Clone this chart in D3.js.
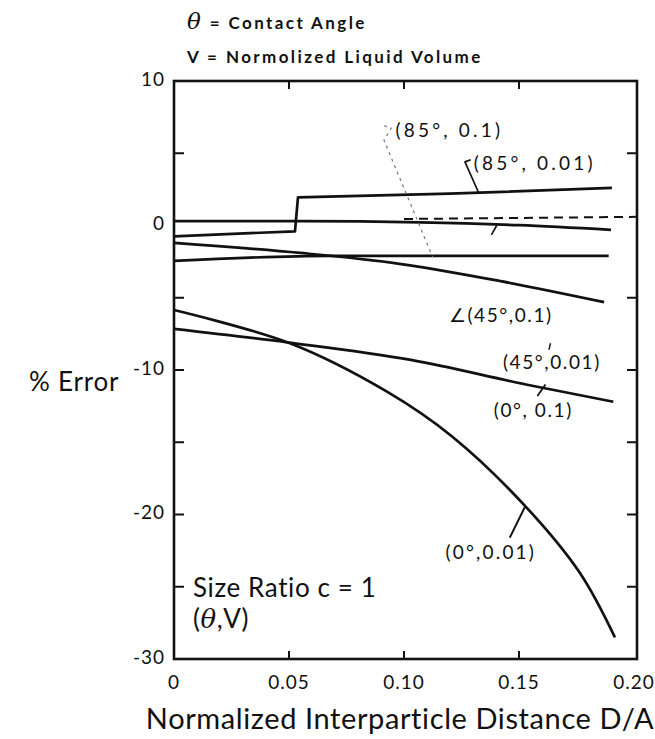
<!DOCTYPE html>
<html>
<head>
<meta charset="utf-8">
<script src="https://cdn.jsdelivr.net/npm/d3@7"></script>
<style>
  html, body { margin: 0; padding: 0; background: #fff; }
  svg { display: block; }
  text { font-family: Lato, "Open Sans", sans-serif; fill: #111; }
</style>
</head>
<body>
<svg id="chart" width="655" height="739"></svg>
<script>
// ---------- data ----------
const xTicks = [0, 0.05, 0.10, 0.15, 0.20];
const xTickLabels = ["0", "0.05", "0.10", "0.15", "0.20"];
const yTicks = [10, 0, -10, -20, -30];
const yInnerTicks = [5, -5, -10, -15, -20, -25];
const xInnerTicks = [0.05, 0.10, 0.15];

// (85°, 0.01) – with jump near D/A = 0.053
const s85_001_x = [0, 0.0526, 0.0539, 0.12, 0.1904];
const s85_001_y = [-0.75, -0.4, 1.95, 2.2, 2.6];

// (85°, 0.1) – solid, near zero
const s85_01_x = [0, 0.055, 0.107, 0.15, 0.19];
const s85_01_y = [0.3, 0.3, 0.22, 0.02, -0.3];

// dashed reference line
const sDash_x = [0.10, 0.2013];
const sDash_y = [0.45, 0.6];

// flat line near -2.2
const s45_001_x = [0, 0.068, 0.189];
const s45_001_y = [-2.45, -2.1, -2.1];

// (45°, 0.1)
const s45_01_x = [0, 0.055, 0.098, 0.142, 0.187];
const s45_01_y = [-1.2, -1.9, -2.65, -3.85, -5.3];

// (0°, 0.1)
const s0_01_x = [0, 0.05, 0.103, 0.153, 0.191];
const s0_01_y = [-7.15, -8.1, -9.3, -11.0, -12.2];

// (0°, 0.01)
const s0_001_x = [0, 0.0504, 0.0926, 0.1209, 0.1526, 0.1765, 0.1917];
const s0_001_y = [-5.85, -8.15, -11.5, -14.6, -19.4, -24.05, -28.5];

// leader lines as polylines in data units
const leader85_01 = [[0.0913, 6.9], [0.0945, 6.75], [0.0913, 5.9], [0.1125, -2.2]];
const leader85_001 = [[0.1290, 4.55], [0.1265, 4.4], [0.1325, 2.25]];
const leaderStub = [[0.1403, 0.0], [0.138, -0.65]];
const leader45_001 = [[0.1637, -8.15], [0.1630, -8.6]];
const leader0_01 = [[0.158, -11.8], [0.1615, -11.0]];
const leader0_001 = [[0.146, -21.6], [0.1525, -19.5]];

const labels = [
  {text: "(85°, 0.1)", x: 0.0963, y: 6.6},
  {text: "(85°, 0.01)", x: 0.1303, y: 4.3},
  {text: "∠(45°,0.1)", x: 0.1195, y: -6.2},
  {text: "(45°,0.01)", x: 0.1430, y: -9.45},
  {text: "(0°, 0.1)", x: 0.1390, y: -12.8},
  {text: "(0°,0.01)", x: 0.1180, y: -22.6}
];

// ---------- layout ----------
const svg = d3.select("#chart");
const x = d3.scaleLinear().domain([0, 0.2013]).range([174, 637]);
const y = d3.scaleLinear().domain([-30, 10]).range([659, 81]);

const line = d3.line().x(d => x(d[0])).y(d => y(d[1]));
const smooth = d3.line().x(d => x(d[0])).y(d => y(d[1])).curve(d3.curveMonotoneX);
const spline = d3.line().x(d => x(d[0])).y(d => y(d[1])).curve(d3.curveCatmullRom.alpha(0.5));
const zip = (a, b) => a.map((v, i) => [v, b[i]]);

// frame
svg.append("rect")
  .attr("x", x(0)).attr("y", y(10))
  .attr("width", x(0.2013) - x(0)).attr("height", y(-30) - y(10))
  .attr("fill", "none").attr("stroke", "#111").attr("stroke-width", 2.6);

// inner ticks
const tickLen = 10;
yInnerTicks.forEach(v => {
  svg.append("line").attr("x1", x(0)).attr("x2", x(0) + tickLen)
    .attr("y1", y(v)).attr("y2", y(v)).attr("stroke", "#111").attr("stroke-width", 2);
  svg.append("line").attr("x1", x(0.2013)).attr("x2", x(0.2013) - tickLen)
    .attr("y1", y(v)).attr("y2", y(v)).attr("stroke", "#111").attr("stroke-width", 2);
});
xInnerTicks.forEach(v => {
  svg.append("line").attr("x1", x(v)).attr("x2", x(v))
    .attr("y1", y(-30)).attr("y2", y(-30) - 8).attr("stroke", "#111").attr("stroke-width", 2);
  svg.append("line").attr("x1", x(v)).attr("x2", x(v))
    .attr("y1", y(10)).attr("y2", y(10) + 8).attr("stroke", "#111").attr("stroke-width", 2);
});

// tick labels
svg.append("g").selectAll("text").data(yTicks).join("text")
  .attr("x", 165).attr("y", d => y(d) - 2).attr("dy", "0.35em")
  .attr("text-anchor", "end").attr("font-size", 19).attr("letter-spacing", 1)
  .text(d => String(d));

svg.append("g").selectAll("text").data(xTicks).join("text")
  .attr("x", d => x(d)).attr("y", 689)
  .attr("text-anchor", "middle").attr("font-size", 19).attr("letter-spacing", 1)
  .text((d, i) => xTickLabels[i]);

// axis titles
svg.append("text").attr("x", 400).attr("y", 729).attr("text-anchor", "middle")
  .attr("font-size", 29).attr("letter-spacing", 0.6)
  .text("Normalized Interparticle Distance D/A");
svg.append("text").attr("x", 29).attr("y", 391).attr("font-size", 26)
  .attr("letter-spacing", 0.8).text("% Error");

// header
const h1 = svg.append("text").attr("x", 187).attr("y", 29).attr("font-size", 17)
  .attr("font-weight", "bold").attr("letter-spacing", 2.4);
h1.append("tspan").attr("font-family", "DejaVu Serif").attr("font-style", "italic")
  .attr("font-size", 23).attr("font-weight", "normal").text("θ");
h1.append("tspan").text(" = Contact Angle");
svg.append("text").attr("x", 187).attr("y", 63).attr("font-size", 17)
  .attr("font-weight", "bold").attr("letter-spacing", 2.4)
  .text("V = Normolized Liquid Volume");

// size ratio note
svg.append("text").attr("x", 193).attr("y", 597).attr("font-size", 26)
  .attr("letter-spacing", 0.6).text("Size Ratio c = 1");
const n2 = svg.append("text").attr("x", 193).attr("y", 628).attr("font-size", 26)
  .attr("letter-spacing", 0.6);
n2.append("tspan").text("(");
n2.append("tspan").attr("font-family", "DejaVu Serif").attr("font-style", "italic").text("θ");
n2.append("tspan").text(",V)");

// curves
const drawPath = (data, gen, opts = {}) => svg.append("path")
  .attr("d", gen(data)).attr("fill", "none").attr("stroke", opts.col || "#111")
  .attr("stroke-width", opts.w || 2.7).attr("stroke-dasharray", opts.dash || null)
  .attr("stroke-linejoin", "round");

drawPath(zip(s85_001_x, s85_001_y), line);
drawPath(zip(s85_01_x, s85_01_y), smooth);
drawPath(zip(sDash_x, sDash_y), line, {w: 2, dash: "9,6"});
drawPath(zip(s45_001_x, s45_001_y), smooth);
drawPath(zip(s45_01_x, s45_01_y), smooth);
drawPath(zip(s0_01_x, s0_01_y), smooth);
drawPath(zip(s0_001_x, s0_001_y), spline);

// leaders
drawPath(leader85_01, line, {w: 1.2, col: "#777", dash: "3,4"});
drawPath(leader85_001, line, {w: 1.7});
drawPath(leaderStub, line, {w: 1.6});
drawPath(leader45_001, line, {w: 1.4});
drawPath(leader0_01, line, {w: 1.8});
drawPath(leader0_001, line, {w: 2});

// labels (wider spacing for the 85° labels, as in the original lettering)
const spacing = t => t.startsWith("(85") ? 3.2 : (t.startsWith("(0°,0") ? 2.2 : 1.6);
svg.append("g").selectAll("text").data(labels).join("text")
  .attr("x", d => x(d.x)).attr("y", d => y(d.y)).attr("dy", "0.35em")
  .attr("font-size", 19).attr("letter-spacing", d => spacing(d.text)).text(d => d.text);
</script>
</body>
</html>
